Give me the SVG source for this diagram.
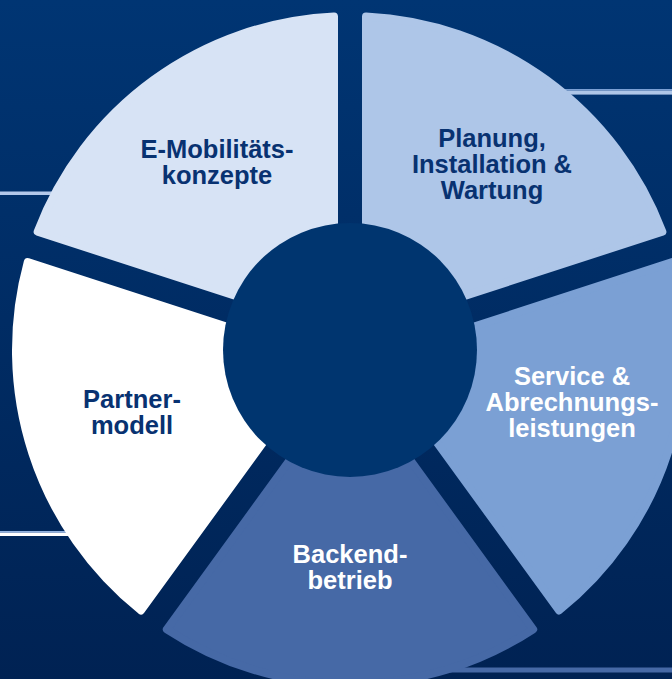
<svg xmlns="http://www.w3.org/2000/svg" width="672" height="679" viewBox="0 0 672 679">
  <defs>
    <linearGradient id="bg" x1="0" y1="0" x2="0" y2="679" gradientUnits="userSpaceOnUse">
      <stop offset="0" stop-color="#003573"/>
      <stop offset="1" stop-color="#002253"/>
    </linearGradient>
  </defs>
  <style>
    .seg { stroke-width: 8; stroke-linejoin: round; }
    .lbl { font-family: "Liberation Sans", Arial, sans-serif; font-weight: bold; font-size: 25.5px; text-anchor: middle; }
    .dark { fill: #083271; }
    .light { fill: #ffffff; }
  </style>
  <rect x="0" y="0" width="672" height="679" fill="url(#bg)"/>
  <g id="connectors">
    <rect x="0" y="191.5" width="62" height="3.5" fill="#b3c8ea"/>
    <rect x="0" y="531" width="80" height="1.8" fill="#8fb0de"/>
    <rect x="0" y="532.8" width="80" height="3.2" fill="#ffffff"/>
    <rect x="560" y="89" width="112" height="1.6" fill="#7ba0d4"/>
    <rect x="560" y="90.6" width="112" height="4" fill="#aec6e8"/>
    <rect x="440" y="667.5" width="232" height="5" fill="#4669a6"/>
  </g>
  <g id="node-emobilitaet">
    <path class="seg" fill="#d7e3f5" stroke="#d7e3f5" d="M334,327.978 L37.655,231.690 A334,334 0 0 1 334,16.383 Z"/>
    <text class="lbl dark" x="217" y="158">E-Mobilitäts-</text>
    <text class="lbl dark" x="217" y="184">konzepte</text>
  </g>
  <g id="node-planung">
    <path class="seg" fill="#aec6e8" stroke="#aec6e8" d="M366,327.978 L366,16.383 A334,334 0 0 1 662.345,231.690 Z"/>
    <text class="lbl dark" x="492" y="147">Planung,</text>
    <text class="lbl dark" x="492" y="173">Installation &amp;</text>
    <text class="lbl dark" x="492" y="199">Wartung</text>
  </g>
  <g id="node-service">
    <path class="seg" fill="#7ba0d4" stroke="#7ba0d4" d="M375.889,358.412 L672.233,262.124 A334,334 0 0 1 559.039,610.497 Z"/>
    <text class="lbl light" x="572" y="385">Service &amp;</text>
    <text class="lbl light" x="572" y="411">Abrechnungs-</text>
    <text class="lbl light" x="572" y="437">leistungen</text>
  </g>
  <g id="node-backend">
    <path class="seg" fill="#4669a6" stroke="#4669a6" d="M350,377.221 L533.151,629.307 A334,334 0 0 1 166.849,629.307 Z"/>
    <text class="lbl light" x="350" y="563">Backend-</text>
    <text class="lbl light" x="350" y="589">betrieb</text>
  </g>
  <g id="node-partner">
    <path class="seg" fill="#ffffff" stroke="#ffffff" d="M324.111,358.412 L140.961,610.497 A334,334 0 0 1 27.767,262.124 Z"/>
    <text class="lbl dark" x="132" y="408">Partner-</text>
    <text class="lbl dark" x="132" y="434">modell</text>
  </g>
  <g id="node-center">
    <circle cx="350" cy="350" r="127" fill="#00356f"/>
  </g>
</svg>
